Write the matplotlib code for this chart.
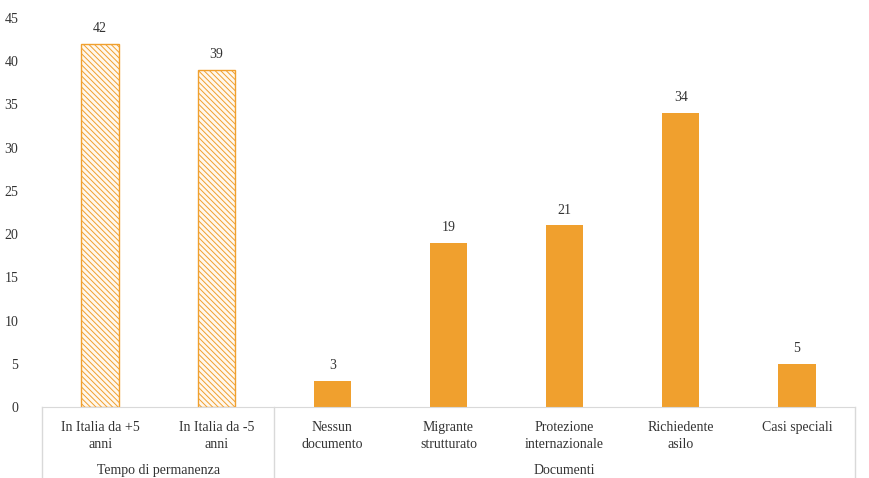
import matplotlib.pyplot as plt
from matplotlib.transforms import blended_transform_factory

categories = ['In Italia da +5\nanni', 'In Italia da -5\nanni', 'Nessun\ndocumento',
              'Migrante\nstrutturato', 'Protezione\ninternazionale', 'Richiedente\nasilo',
              'Casi speciali']
values = [42, 39, 3, 19, 21, 34, 5]
hatched = [True, True, False, False, False, False, False]
groups = ['Tempo di permanenza', 'Documenti']
group_spans = [(0, 1), (2, 6)]
yticks = [0, 5, 10, 15, 20, 25, 30, 35, 40, 45]

orange = '#F0A02E'
line_col = '#D9D9D9'
text_col = '#333333'

plt.rcParams['font.family'] = ['Liberation Serif', 'DejaVu Serif']
plt.rcParams['hatch.color'] = orange
plt.rcParams['hatch.linewidth'] = 0.7

fig = plt.figure(figsize=(8.7, 4.78), dpi=100)
ax = fig.add_axes([42 / 870, 71 / 478, 813 / 870, 389 / 478])

x = list(range(len(categories)))
for xi, v, h in zip(x, values, hatched):
    if h:
        ax.bar(xi, v, width=0.32, color='#FFF8EE', edgecolor=orange,
               hatch='\\\\\\\\\\\\', linewidth=1.0)
    else:
        ax.bar(xi, v, width=0.32, color=orange, edgecolor=orange, linewidth=0)
    ax.text(xi, v + 1.0, str(v), ha='center', va='bottom', fontsize=10, color=text_col)

ax.set_xlim(-0.5, len(categories) - 0.5)
ax.set_ylim(0, 45)
ax.set_yticks(yticks)
ax.tick_params(axis='y', length=0, pad=17, labelsize=10, labelcolor=text_col)
ax.set_xticks([])
for s in ['top', 'right', 'left']:
    ax.spines[s].set_visible(False)
ax.spines['bottom'].set_color(line_col)

tr = blended_transform_factory(ax.transData, ax.transAxes)
bottom = -71 / 389
for xi, c in zip(x, categories):
    ax.text(xi, -0.035, c, transform=tr, ha='center', va='top', fontsize=10,
            color=text_col, linespacing=1.4)
for g, (a, b) in zip(groups, group_spans):
    ax.text((a + b) / 2, bottom + 0.003, g, transform=tr, ha='center', va='bottom',
            fontsize=10, color=text_col)

for xv in [-0.5, 1.5, 6.5]:
    ax.plot([xv, xv], [0, bottom], transform=tr, color=line_col, linewidth=1,
            clip_on=False)

fig.savefig('out.png', dpi=100)
